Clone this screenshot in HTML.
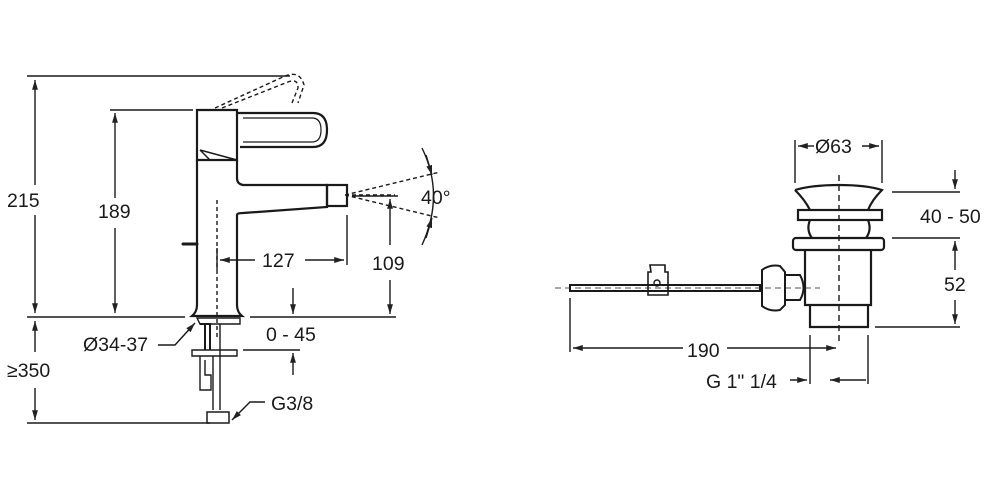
<!DOCTYPE html>
<html><head><meta charset="utf-8"><style>
html,body{margin:0;padding:0;background:#fff;width:1000px;height:500px;overflow:hidden}
text{font-family:"Liberation Sans",Arial,sans-serif;font-size:19.5px;fill:#1a1a1a}
</style></head><body>
<svg width="1000" height="500" viewBox="0 0 1000 500" xmlns="http://www.w3.org/2000/svg">
<defs>
<marker id="a" viewBox="0 0 10 10" refX="10" refY="5" markerWidth="7" markerHeight="7" orient="auto-start-reverse"><path d="M0,2 L10,5 L0,8 z" fill="#222"/></marker>
</defs>
<g stroke="#1a1a1a" fill="none" stroke-width="1.4">
<line x1="27" y1="76" x2="290" y2="76"/>
<line x1="110" y1="110" x2="193" y2="110"/>
<line x1="27" y1="317" x2="185" y2="317"/>
<line x1="250" y1="317" x2="396" y2="317"/>
<line x1="27" y1="423" x2="210" y2="423"/>
<line x1="35" y1="80" x2="35" y2="185" marker-start="url(#a)"/>
<line x1="35" y1="215" x2="35" y2="313" marker-end="url(#a)"/>
<line x1="115" y1="113" x2="115" y2="198" marker-start="url(#a)"/>
<line x1="115" y1="228" x2="115" y2="313" marker-end="url(#a)"/>
<line x1="35" y1="321" x2="35" y2="352" marker-start="url(#a)"/>
<line x1="35" y1="388" x2="35" y2="420" marker-end="url(#a)"/>
<line x1="217" y1="248" x2="217" y2="270"/>
<line x1="347" y1="215" x2="347" y2="265"/>
<line x1="220" y1="260" x2="255" y2="260" marker-start="url(#a)"/>
<line x1="305" y1="260" x2="344" y2="260" marker-end="url(#a)"/>
<line x1="352" y1="196" x2="398" y2="196"/>
<line x1="390" y1="199" x2="390" y2="245" marker-start="url(#a)"/>
<line x1="390" y1="280" x2="390" y2="314" marker-end="url(#a)"/>
<line x1="293" y1="288" x2="293" y2="314" marker-end="url(#a)"/>
<line x1="293" y1="353" x2="293" y2="375" marker-start="url(#a)"/>
<line x1="243" y1="350" x2="300" y2="350"/>
<path d="M197,110 H237 V160 H197 Z" stroke-width="2.2"/>
<path d="M197,160 V305 Q197,312 192,316 H242 Q237,312 237,305 V215 Q237,213 243,213 L327,207 V185 H243 Q237,184 237,178 V160" stroke-width="2.2"/>
<path d="M200,150 L210,160 M200,150 L237,160" stroke-width="1.5"/>
<rect x="327" y="185" width="20" height="21" stroke-width="2.2"/>
<path d="M237,113 H313 Q327,113 327,130 Q327,147 313,147 H240" stroke-width="2.2"/>
<path d="M243,118 H312 Q321,118 321,130 Q321,142 312,142 H243" stroke-width="1.2"/>
<path d="M183,244 H197" stroke-width="3" stroke-linecap="round"/>
<path d="M197,318 H240 V324 H200 Z"/>
<path d="M200,324 H210 V350 M205,324 V350" stroke-width="2"/>
<path d="M192,350 H237 V356 H192 Z"/>
<path d="M200,356 V390 H211 V375 H205 V360"/>
<path d="M213,356 V410 M220,324 V410"/>
<rect x="207" y="412" width="22" height="11" stroke-width="1.5"/>
<g stroke-dasharray="4,3">
<path d="M215,108 L285,76 Q300,70 304,85 L298,103"/>
<path d="M222,108 L288,82 Q298,78 298,88 L292,103"/>
<line x1="217" y1="200" x2="217" y2="340"/>
<path d="M345,195 L440,172 M345,195 L440,218 M345,195 H395"/>
</g>
<path d="M422,148 Q445,195 422,245"/>
<line x1="426" y1="155" x2="432" y2="175" marker-end="url(#a)"/>
<line x1="426" y1="238" x2="432" y2="218" marker-end="url(#a)"/>
<path d="M158,345 H175 L195,323" marker-end="url(#a)"/>
<path d="M265,402 H250 L232,420" marker-end="url(#a)"/>

<line x1="795" y1="140" x2="795" y2="183"/>
<line x1="882" y1="140" x2="882" y2="183"/>
<line x1="798" y1="146" x2="814" y2="146" marker-start="url(#a)"/>
<line x1="862" y1="146" x2="879" y2="146" marker-end="url(#a)"/>
<path d="M795,190 Q812,185 839,185 Q866,185 882,190 Q872,200 868,210 M795,190 Q805,200 810,210" stroke-width="2.2"/>
<rect x="798" y="210" width="84" height="10" stroke-width="2.2"/>
<path d="M810,220 Q806,230 812,238 M868,220 Q872,230 866,238" stroke-width="2.2"/>
<rect x="793" y="238" width="91" height="12" rx="3" stroke-width="2.2"/>
<path d="M805,250 V305 H871 V250 M810,305 V327 H868 V305" stroke-width="2.2"/>
<line x1="839" y1="175" x2="839" y2="345" stroke-dasharray="6,4"/>
<line x1="892" y1="192" x2="960" y2="192"/>
<line x1="892" y1="238" x2="960" y2="238"/>
<line x1="875" y1="327" x2="960" y2="327"/>
<line x1="955" y1="170" x2="955" y2="189" marker-end="url(#a)"/>
<line x1="955" y1="241" x2="955" y2="270" marker-start="url(#a)"/>
<line x1="955" y1="300" x2="955" y2="324" marker-end="url(#a)"/>
<rect x="570" y="285" width="190" height="6" stroke-width="2"/>
<line x1="555" y1="288" x2="820" y2="288" stroke-dasharray="6,4" stroke-width="0.8"/>
<path d="M650,265 H665 V272 H668 V295 H648 V272 H651 Z" stroke-width="1.6"/>
<circle cx="657" cy="283" r="3"/>
<path d="M762,270 Q770,264 780,266 L785,272 V305 L780,310 Q770,312 762,306 Z" stroke-width="2"/>
<path d="M785,275 H800 Q807,288 800,300 H785" stroke-width="2"/>
<line x1="570" y1="298" x2="570" y2="352"/>
<line x1="573" y1="348" x2="683" y2="348" marker-start="url(#a)"/>
<line x1="727" y1="348" x2="836" y2="348" marker-end="url(#a)"/>
<line x1="810" y1="335" x2="810" y2="384"/>
<line x1="868" y1="335" x2="868" y2="384"/>
<line x1="790" y1="380" x2="807" y2="380" marker-end="url(#a)"/>
<line x1="830" y1="380" x2="866" y2="380" marker-start="url(#a)"/>
</g>
<text x="7" y="207">215</text>
<text x="98" y="218">189</text>
<text x="262" y="267">127</text>
<text x="372" y="270">109</text>
<text x="421" y="204">40°</text>
<text x="266" y="341">0 - 45</text>
<text x="83" y="351">Ø34-37</text>
<text x="7" y="377">≥350</text>
<text x="271" y="410">G3/8</text>
<text x="815" y="153">Ø63</text>
<text x="920" y="223">40 - 50</text>
<text x="944" y="291">52</text>
<text x="687" y="357">190</text>
<text x="706" y="388">G 1" 1/4</text>
</svg>
</body></html>
